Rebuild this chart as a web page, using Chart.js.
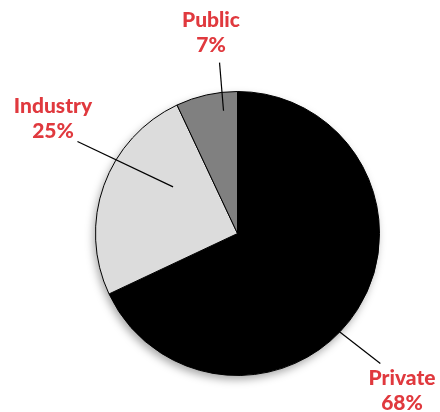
<!DOCTYPE html>
<html>
<head>
<meta charset="utf-8">
<script src="https://cdn.jsdelivr.net/npm/chart.js@4"></script>
<style>
  html, body { margin: 0; padding: 0; background: #fff; }
  #wrap { width: 440px; height: 412px; }
</style>
</head>
<body>
<div id="wrap"><canvas id="chartShare" width="440" height="412"></canvas></div>
<script>
// Share of funding by source
const sectors = ['Private', 'Industry', 'Public'];
const shares = [68, 25, 7];
const sliceColors = ['#000000', '#dcdcdc', '#808080'];

// Leader lines, given as angle (deg clockwise from top) and radius fraction
const leaders = [
    { inner: [133.9, 1.0], outer: [132.3, 1.36], text: [402, 385] },
    { inner: [305.9, 0.56], outer: [299.9, 1.30], text: [53, 113] },
    { inner: [353.5, 0.87], outer: [354.0, 1.21], text: [211, 27] }
];

// soft shadow under the pie
const pieShadow = {
    id: 'pieShadow',
    beforeDatasetsDraw(chart) {
        const arc = chart.getDatasetMeta(0).data[0];
        const ctx = chart.ctx;
        ctx.save();
        ctx.shadowColor = 'rgba(0,0,0,0.35)';
        ctx.shadowBlur = 8;
        ctx.shadowOffsetX = -2;
        ctx.shadowOffsetY = 4;
        ctx.fillStyle = '#fff';
        ctx.beginPath();
        ctx.arc(arc.x, arc.y, arc.outerRadius, 0, Math.PI * 2);
        ctx.fill();
        ctx.restore();
    }
};

// labels and leader lines
const pieLabels = {
    id: 'pieLabels',
    afterDatasetsDraw(chart) {
        const arc = chart.getDatasetMeta(0).data[0];
        const ctx = chart.ctx;
        const pt = (a, f) => {
            const t = a * Math.PI / 180;
            return [arc.x + Math.sin(t) * arc.outerRadius * f, arc.y - Math.cos(t) * arc.outerRadius * f];
        };
        ctx.save();
        ctx.strokeStyle = '#000';
        ctx.lineWidth = 1.2;
        leaders.forEach((l, i) => {
            const a = pt(l.inner[0], l.inner[1]);
            const b = pt(l.outer[0], l.outer[1]);
            ctx.beginPath();
            ctx.moveTo(a[0], a[1]);
            ctx.lineTo(b[0], b[1]);
            ctx.stroke();

            ctx.fillStyle = '#e0393e';
            ctx.font = '900 21px Lato';
            ctx.textAlign = 'center';
            ctx.textBaseline = 'alphabetic';
            ctx.fillText(sectors[i], l.text[0], l.text[1]);
            ctx.fillText(shares[i] + '%', l.text[0], l.text[1] + 25);
        });
        ctx.restore();
    }
};

new Chart(document.getElementById('chartShare').getContext('2d'), {
    type: 'pie',
    data: {
        labels: sectors,
        datasets: [{
            data: shares,
            backgroundColor: sliceColors,
            borderColor: '#000',
            borderWidth: 1
        }]
    },
    options: {
        responsive: false,
        animation: false,
        layout: { padding: { left: 95, top: 91, right: 60, bottom: 36 } },
        plugins: {
            legend: { display: false },
            tooltip: { enabled: false }
        }
    },
    plugins: [pieShadow, pieLabels]
});
</script>
</body>
</html>
